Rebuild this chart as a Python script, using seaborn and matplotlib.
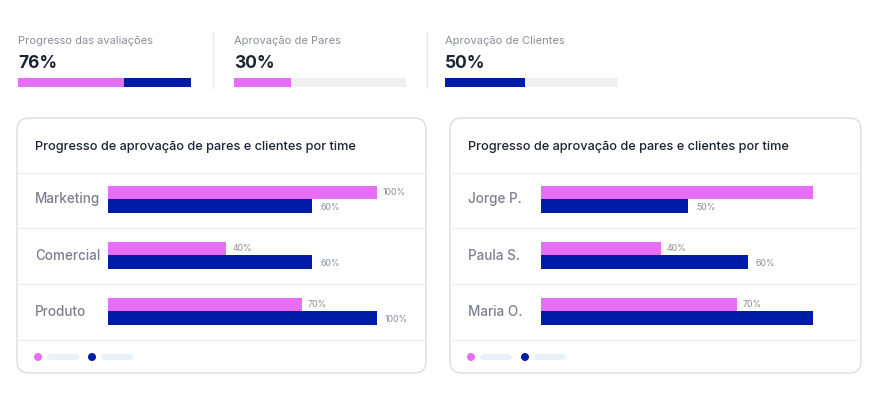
import matplotlib
matplotlib.use("Agg")
import matplotlib.pyplot as plt
import seaborn as sns
import pandas as pd
from matplotlib.patches import FancyBboxPatch, Circle

sns.set_theme(style="white")
plt.rcParams['font.family'] = ['Inter', 'DejaVu Sans']

# ---------------- data ----------------
kpi_titles = ["Progresso das avaliações", "Aprovação de Pares", "Aprovação de Clientes"]
kpi_values = ["76%", "30%", "50%"]
kpi_pink = [61, 33, 0]
kpi_blue = [39, 0, 46]

card_title = "Progresso de aprovação de pares e clientes por time"
series = ["Pares", "Clientes"]

teams = ["Marketing", "Comercial", "Produto"]
teams_pares = [100, 44, 72]
teams_clientes = [76, 76, 100]
teams_pares_labels = ["100%", "40%", "70%"]
teams_clientes_labels = ["60%", "60%", "100%"]

people = ["Jorge P.", "Paula S.", "Maria O."]
people_pares = [100, 44, 72]
people_clientes = [54, 76, 100]
people_pares_labels = ["", "40%", "70%"]
people_clientes_labels = ["50%", "60%", ""]

# ---------------- style ----------------
PINK = "#e66ef6"
BLUE = "#001ca6"
TRACK = "#f0f0f1"
DARK = "#1d2333"
GRAY = "#7c808e"
LIGHT = "#8a8e9a"
LINE = "#eeeff1"
BORDER = "#dcdde1"
PILL = "#e9f1fc"

W, H = 878, 394
fig = plt.figure(figsize=(W / 100, H / 100), dpi=100)
fig.patch.set_facecolor("white")

bg = fig.add_axes([0, 0, 1, 1], zorder=0)
bg.set_xlim(0, W)
bg.set_ylim(H, 0)
bg.axis("off")


def px_axes(x0, y0, x1, y1, z=2):
    ax = fig.add_axes([x0 / W, 1 - y1 / H, (x1 - x0) / W, (y1 - y0) / H], zorder=z)
    ax.patch.set_alpha(0)
    return ax


# ---------------- KPI strip ----------------
kpi_pos = [(18, 191), (234, 406), (445, 618)]
for (x0, x1), t, v, p, b in zip(kpi_pos, kpi_titles, kpi_values, kpi_pink, kpi_blue):
    bg.text(x0, 40.5, t, va="center", ha="left", fontsize=8, color=LIGHT)
    bg.text(x0, 63.5, v, va="center", ha="left", fontsize=12.5, fontweight="bold", color=DARK)
    ax = px_axes(x0, 78, x1, 87)
    ax.barh([0], [100], height=1, color=TRACK, linewidth=0)
    ax.barh([0], [p], height=1, color=PINK, linewidth=0)
    ax.barh([0], [b], left=[p], height=1, color=BLUE, linewidth=0)
    ax.set_xlim(0, 100)
    ax.set_ylim(-0.5, 0.5)
    ax.axis("off")

for xd in (213, 427):
    bg.plot([xd, xd], [32, 88], color="#e6e7ea", lw=1)

# ---------------- cards ----------------
cards = [
    (17, 426, 108, 377, teams, teams_pares, teams_clientes, teams_pares_labels, teams_clientes_labels),
    (450, 861, 541, 813, people, people_pares, people_clientes, people_pares_labels, people_clientes_labels),
]

row_y = [199, 255.5, 311.5]
for cx0, cx1, bx0, bx1, cats, pares, clientes, plab, clab in cards:
    box = FancyBboxPatch((cx0, 118), cx1 - cx0, 373 - 118,
                         boxstyle="round,pad=0,rounding_size=12",
                         fc="white", ec=BORDER, lw=1, zorder=1)
    bg.add_patch(box)
    bg.text(cx0 + 18, 146.5, card_title, va="center", ha="left", fontsize=9.2,
            fontweight="medium", color=DARK, zorder=3)
    for ly in (173, 227.5, 283.5, 339.5):
        bg.plot([cx0 + 1, cx1 - 1], [ly, ly], color=LINE, lw=1, zorder=2)
    for name, ry in zip(cats, row_y):
        bg.text(cx0 + 18, ry, name, va="center", ha="left", fontsize=9.7,
                fontweight="medium", color=GRAY, zorder=3)
    # legend
    for dx, col in ((21, PINK), (75, BLUE)):
        bg.add_patch(Circle((cx0 + dx, 357), 4, fc=col, ec="none", zorder=3))
        bg.add_patch(FancyBboxPatch((cx0 + dx + 9, 354), 32, 6,
                                    boxstyle="round,pad=0,rounding_size=3",
                                    fc=PILL, ec="none", zorder=3))

    df = pd.DataFrame({
        "cat": cats * 2,
        "serie": [series[0]] * len(cats) + [series[1]] * len(cats),
        "value": pares + clientes,
    })
    ax = px_axes(bx0, 171, bx1, 339.5, z=3)
    sns.barplot(data=df, y="cat", x="value", hue="serie", hue_order=series,
                palette=[PINK, BLUE], orient="h", width=0.48, saturation=1,
                linewidth=0, legend=False, ax=ax)
    ax.set_xlim(0, 100)
    ax.set_ylim(2.5, -0.5)
    ax.axis("off")
    for container, labs, gap, dy in zip(ax.containers, (plab, clab), (6, 8), (0, -1)):
        for bar, lab in zip(container, labs):
            if not lab:
                continue
            ax.annotate(lab, (bar.get_x() + bar.get_width(), bar.get_y() + bar.get_height() / 2),
                        xytext=(gap * 0.72, dy), textcoords="offset points",
                        va="center", ha="left", fontsize=6.3, color=LIGHT,
                        annotation_clip=False)

fig.savefig("out.png", dpi=100, facecolor="white")
